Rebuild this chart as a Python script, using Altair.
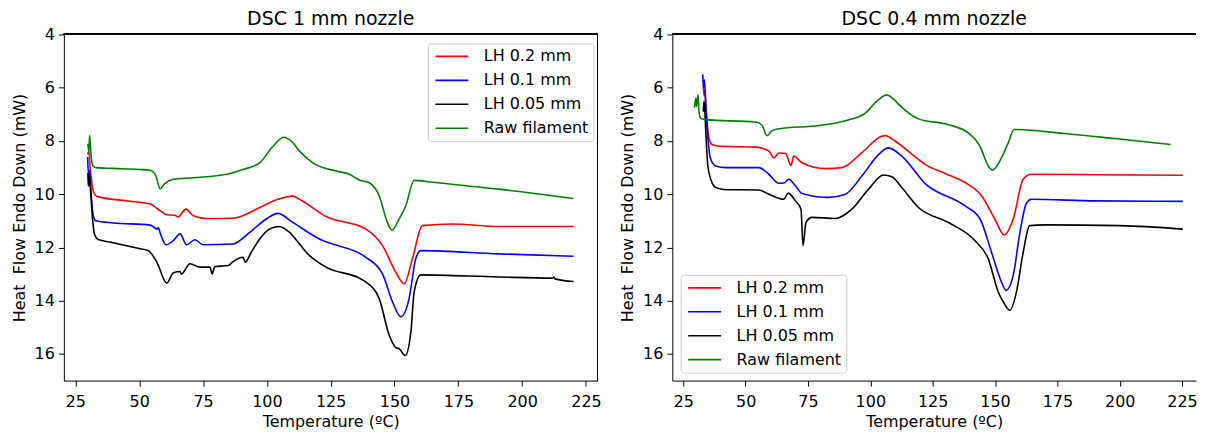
import altair as alt
import pandas as pd

SERIES = ["LH 0.2 mm", "LH 0.1 mm", "LH 0.05 mm", "Raw filament"]
COLORS = ["#ff0000", "#0000ff", "#000000", "#008000"]
X_TICKS = [25, 50, 75, 100, 125, 150, 175, 200, 225]
Y_TICKS = [4, 6, 8, 10, 12, 14, 16]

# ---------- DSC 1 mm nozzle ----------
red_T1 = [29.8, 30.3, 30.8, 31.5, 32.5, 34, 45.2, 54.3, 58.2, 60.8, 64, 65.3, 68.3, 71.2, 76.4, 86.8, 97.2,
          104, 110.2, 112.8, 123.2, 138.8, 145.3, 150.5, 153.8, 157, 160.9, 172.6, 190.8, 220.1]
red_V1 = [8.5, 8.4, 9.0, 9.6, 10.0, 10.1, 10.25, 10.37, 10.62, 10.77, 10.79, 10.85, 10.56, 10.81, 10.91, 10.9, 10.5,
          10.2, 10.07, 10.19, 10.84, 11.31, 11.93, 12.93, 13.36, 12.43, 11.18, 11.12, 11.21, 11.21]

blue_T1 = [29.8, 30.2, 30.6, 31.2, 32, 33, 40, 54.3, 57.1, 57.5, 58.2, 60.5, 63.4, 66, 68.6, 71.8, 75.1, 86.8,
           93.3, 99.8, 104.3, 110.2, 121.9, 125.8, 138.8, 145.3, 149.2, 152.5, 155.7, 158.3, 160.3, 190.8, 220.1]
blue_V1 = [8.6, 9.3, 9.1, 10.0, 10.8, 11.0, 11.08, 11.16, 11.31, 11.25, 11.45, 11.9, 11.74, 11.49, 11.9, 11.71, 11.9, 11.87,
           11.43, 10.93, 10.72, 11.06, 11.74, 11.87, 12.37, 12.99, 14.04, 14.6, 13.92, 12.43, 12.12, 12.24, 12.33]

black_T1 = [29.9, 30.1, 30.4, 30.9, 31.8, 32.5, 34, 38.7, 50.4, 53.6, 56.9, 60.8, 63.4, 66, 66.5, 69.9, 73.8, 77.7,
            78.6, 79.6, 84.8, 86.8, 90.7, 91.5, 93.9, 97.2, 101, 104.7, 108.9, 112.8, 115.4, 123.2, 136.2, 138.8,
            144, 147.9, 150.5, 151.8, 154.2, 156.4, 157.7, 160.3, 190.8, 212, 212.4, 212.8, 220.1]
black_V1 = [9.2, 9.7, 9.3, 9.8, 11.0, 11.5, 11.7, 11.8, 12.05, 12.12, 12.55, 13.34, 12.95, 12.9, 13.0, 12.61, 12.74, 12.74,
            12.99, 12.72, 12.68, 12.53, 12.37, 12.55, 12.18, 11.68, 11.31, 11.21, 11.43, 11.87, 12.18, 12.74, 13.15, 13.3,
            13.92, 15.29, 15.76, 15.8, 16.06, 15.17, 13.67, 13.03, 13.11, 13.15, 13.1, 13.18, 13.28]

green_T1 = [29.9, 30.3, 30.6, 31.2, 32.0, 33, 40, 50, 54.3, 56.5, 58.2, 60, 63.4, 71.2, 84.2, 90.7, 97.2, 102.4,
            106.6, 109.5, 112.8, 118, 127.1, 132.3, 136.2, 140.1, 144, 147.2, 149, 151.8, 154.4, 157.7, 164.8, 190.8, 220.1]
green_V1 = [8.1, 8.4, 7.8, 8.6, 8.95, 9.0, 9.03, 9.07, 9.1, 9.3, 9.79, 9.6, 9.44, 9.38, 9.25, 9.07, 8.82, 8.2,
            7.86, 8.0, 8.38, 8.82, 9.13, 9.25, 9.47, 9.57, 10.06, 11.06, 11.35, 10.93, 10.44, 9.48, 9.55, 9.81, 10.16]

# ---------- DSC 0.4 mm nozzle ----------
red_T2 = [33.0, 33.3, 33.6, 34.2, 35.3, 36.5, 40, 54, 59.3, 61.3, 63.3, 66, 68.2, 69.3, 72.6, 82, 88.6, 96.6,
          104.6, 106, 110, 119.3, 122, 130, 138, 144.6, 149.9, 153.7, 157.3, 161.3, 164.6, 191.3, 225.3]
red_V2 = [5.9, 6.3, 6.1, 6.9, 7.9, 8.13, 8.2, 8.23, 8.38, 8.64, 8.45, 8.47, 8.92, 8.57, 8.82, 9.04, 9.0, 8.44,
          7.82, 7.8, 8.01, 8.69, 8.88, 9.22, 9.56, 10.06, 10.93, 11.53, 10.93, 9.44, 9.25, 9.27, 9.29]

blue_T2 = [32.8, 33.1, 33.5, 34.0, 34.8, 36, 38, 42, 55.3, 59.3, 63.3, 65.3, 67.3, 70, 72.6, 83.3, 90, 96.6,
           103.3, 107.3, 112.6, 122, 138, 144, 148.6, 152.6, 154.4, 157.3, 160, 162.6, 164.6, 190, 225.3]
blue_V2 = [5.5, 6.0, 5.7, 6.6, 7.8, 8.69, 8.94, 9.0, 9.0, 9.25, 9.59, 9.58, 9.44, 9.69, 9.97, 10.12, 10.0, 9.32,
           8.51, 8.26, 8.57, 9.6, 10.44, 10.93, 12.18, 13.3, 13.61, 13.05, 11.43, 10.34, 10.19, 10.25, 10.27]

black_T2 = [33.0, 33.3, 33.6, 34.0, 34.8, 36, 38, 42, 55.3, 59.3, 65.3, 67, 70, 72.2, 73.0, 74.2, 76.6, 86,
            92.6, 99.3, 105.3, 108.6, 112.6, 119.3, 131.3, 141.9, 147.3, 151.3, 153.3, 156, 158.6, 161.3, 163.9,
            170, 200, 225.3]
black_V2 = [6.9, 6.5, 6.8, 7.6, 8.9, 9.44, 9.75, 9.83, 9.84, 10.0, 10.19, 9.96, 10.25, 10.56, 11.93, 11.06, 10.87, 10.91,
            10.56, 9.81, 9.28, 9.34, 9.75, 10.5, 11.06, 11.74, 12.43, 13.67, 14.04, 14.36, 13.67, 12.18, 11.18,
            11.15, 11.18, 11.31]

green_T2 = [29.5, 30.0, 30.3, 30.9, 31.3, 32.0, 34, 54, 56.5, 58.6, 60.5, 63.3, 79.3, 90, 98, 103.3, 106.6, 109.5,
            112, 119.3, 131.3, 139.3, 144, 147.3, 149, 152.6, 155.3, 157.7, 178, 198, 220.4]
green_V2 = [6.75, 6.4, 6.7, 6.27, 6.9, 7.15, 7.2, 7.29, 7.4, 7.8, 7.62, 7.54, 7.42, 7.24, 6.95, 6.45, 6.27, 6.45,
            6.68, 7.17, 7.39, 7.7, 8.2, 8.94, 9.09, 8.63, 8.07, 7.57, 7.72, 7.91, 8.13]


def frame(parts):
    rows = []
    for name, ts, vs in parts:
        for i, (t, v) in enumerate(zip(ts, vs)):
            rows.append({"series": name, "T": t, "v": v, "idx": i})
    return pd.DataFrame(rows)


df1 = frame([(SERIES[0], red_T1, red_V1), (SERIES[1], blue_T1, blue_V1),
             (SERIES[2], black_T1, black_V1), (SERIES[3], green_T1, green_V1)])
df2 = frame([(SERIES[0], red_T2, red_V2), (SERIES[1], blue_T2, blue_V2),
             (SERIES[2], black_T2, black_V2), (SERIES[3], green_T2, green_V2)])

FONT = "DejaVu Sans"


def panel(df, title, xdom, width, lx, ly, right_spine):
    xs = alt.Scale(domain=xdom, nice=False, zero=False)
    ys = alt.Scale(domain=[4, 17], reverse=True, nice=False, zero=False)
    legend = alt.Legend(title=None, orient="none", legendX=lx, legendY=ly, direction="vertical",
                        symbolType="M-1,0H5", symbolSize=121, symbolStrokeWidth=1.6,
                        labelFontSize=16, labelFont=FONT, labelColor="black", labelOffset=35,
                        labelLimit=400, rowPadding=8, padding=5, fillColor="white",
                        strokeColor="#cccccc", cornerRadius=3)
    lines = alt.Chart(df).mark_line(strokeWidth=1.6, clip=True, interpolate="monotone").encode(
        x=alt.X("T:Q", scale=xs, axis=alt.Axis(values=X_TICKS, title="Temperature (ºC)",
                                                labelPadding=7, titlePadding=5)),
        y=alt.Y("v:Q", scale=ys, axis=alt.Axis(values=Y_TICKS, title="Heat\u00a0 Flow Endo Down (mW)")),
        color=alt.Color("series:N", scale=alt.Scale(domain=SERIES, range=COLORS), sort=SERIES, legend=legend),
        order=alt.Order("idx:Q"),
    )
    top = alt.Chart(df).mark_rule(color="black", strokeWidth=1).encode(y=alt.datum(4))
    layers = [lines, top]
    if right_spine:
        layers.append(alt.Chart(df).mark_rule(color="black", strokeWidth=1).encode(x=alt.datum(xdom[1])))
    return alt.layer(*layers).properties(
        width=width, height=347,
        title=alt.TitleParams(title, fontSize=19, font=FONT, fontWeight="normal", color="black",
                              anchor="middle", offset=-3),
    )


left = panel(df1, "DSC 1 mm nozzle", [20.5, 229.5], 535, 365, 9, True)
right = panel(df2, "DSC 0.4 mm nozzle", [20.6, 230.6], 525, 8.4, 241, False)

chart = alt.hconcat(left, right, spacing=18).resolve_legend(color="independent").properties(
    padding={"left": 3, "top": 2, "right": 0, "bottom": 0}, background="white"
).configure_view(stroke=None).configure_axis(
    grid=False, domain=True, domainColor="black", domainWidth=1, tickColor="black", tickWidth=1,
    tickSize=5.5, labelFont=FONT, labelFontSize=16, labelColor="black", titleFont=FONT,
    titleFontSize=16, titleFontWeight="normal", titleColor="black", labelPadding=4,
).configure_axisY(titlePadding=7)

chart.save("out.html", embed_options={"renderer": "svg", "actions": False})
